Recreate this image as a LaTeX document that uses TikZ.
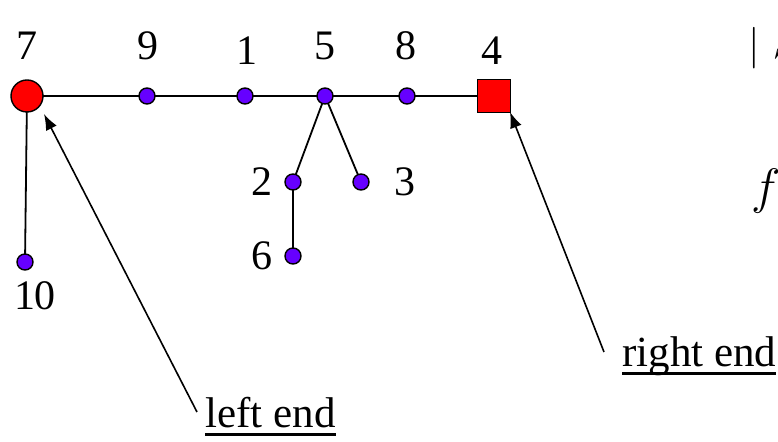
\documentclass[tikz,border=0pt]{standalone}
\usepackage{fontspec}
\setmainfont{Liberation Serif}
\usetikzlibrary{arrows.meta, positioning}
\definecolor{endred}{HTML}{FF0000}
\definecolor{vertex}{HTML}{6600FF}
\newcommand\undl[1]{\setbox0\hbox{#1}\rlap{\rule[-4pt]{\wd0}{1.3pt}}\box0}

\begin{document}
\begin{tikzpicture}[x=0.5pt, y=-0.5pt,
  dot/.style={circle, draw=black, line width=0.7pt, fill=vertex, inner sep=0pt, minimum size=8pt},
  bigend/.style={circle, draw=black, line width=0.7pt, fill=endred, inner sep=0pt, minimum size=16pt},
  sqend/.style={rectangle, draw=black, line width=0.7pt, fill=endred, inner sep=0pt, minimum size=16.5pt},
  num/.style={font=\fontsize{21}{25}\selectfont, inner sep=0pt},
  edge/.style={draw=black, line width=0.9pt},
  pointer/.style={draw=black, line width=0.8pt, -{Latex[length=8pt,width=6pt]}},
  note/.style={font=\fontsize{21.5}{25}\selectfont, inner sep=0pt, anchor=base west}
]
\useasboundingbox (0,0) rectangle (778,442);

% path edges first, vertices on top
\coordinate (p7) at (27,96);
\coordinate (p9) at (147,96);
\coordinate (p1) at (245,96);
\coordinate (p5) at (325,96);
\coordinate (p8) at (407,96);
\coordinate (p4) at (494,96);
\coordinate (p10) at (25,262);
\coordinate (p2) at (293,182);
\coordinate (p3) at (361,182);
\coordinate (p6) at (293,256);

\draw[edge] (p7) -- (p9) -- (p1) -- (p5) -- (p8) -- (p4);
\draw[edge] (p7) -- (p10);
\draw[edge] (p5) -- (p2) -- (p6);
\draw[edge] (p5) -- (p3);

\node[bigend] (v7) at (p7) {};
\node[dot] (v9) at (p9) {};
\node[dot] (v1) at (p1) {};
\node[dot] (v5) at (p5) {};
\node[dot] (v8) at (p8) {};
\node[sqend] (v4) at (p4) {};
\node[dot] (v10) at (p10) {};
\node[dot] (v2) at (p2) {};
\node[dot] (v3) at (p3) {};
\node[dot] (v6) at (p6) {};

% vertex numbers
\node[num] (n7) at (27,46) {7};
\node[num] (n9) at (148,46) {9};
\node[num] (n1) at (247,51) {1};
\node[num] (n5) at (325,46) {5};
\node[num] (n8) at (406,46) {8};
\node[num] (n4) at (492,51) {4};
\node[num] (n2) at (262,182) {2};
\node[num] (n3) at (405,182) {3};
\node[num] (n6) at (262,256) {6};
\node[num] (n10) at (35,296) {10};

% ends
\node[note] (leftend) at (205,428) {\undl{left end}};
\node[note] (rightend) at (622,367) {\undl{right end}};
\coordinate (lfoot) at (197,412);
\coordinate (ltip) at (44,114);
\coordinate (rfoot) at (604,352);
\coordinate (rtip) at (510,112);
\draw[pointer] (lfoot) -- (ltip);
\draw[pointer] (rfoot) -- (rtip);

% cut-off text at the right border
\node[note, font=\fontsize{22}{26}\selectfont] (size) at (748,59) {$|\hspace{6.5pt}S$};
\node[note, font=\fontsize{28}{32}\selectfont] (fun) at (751,204) {$f$};
\end{tikzpicture}
\end{document}
